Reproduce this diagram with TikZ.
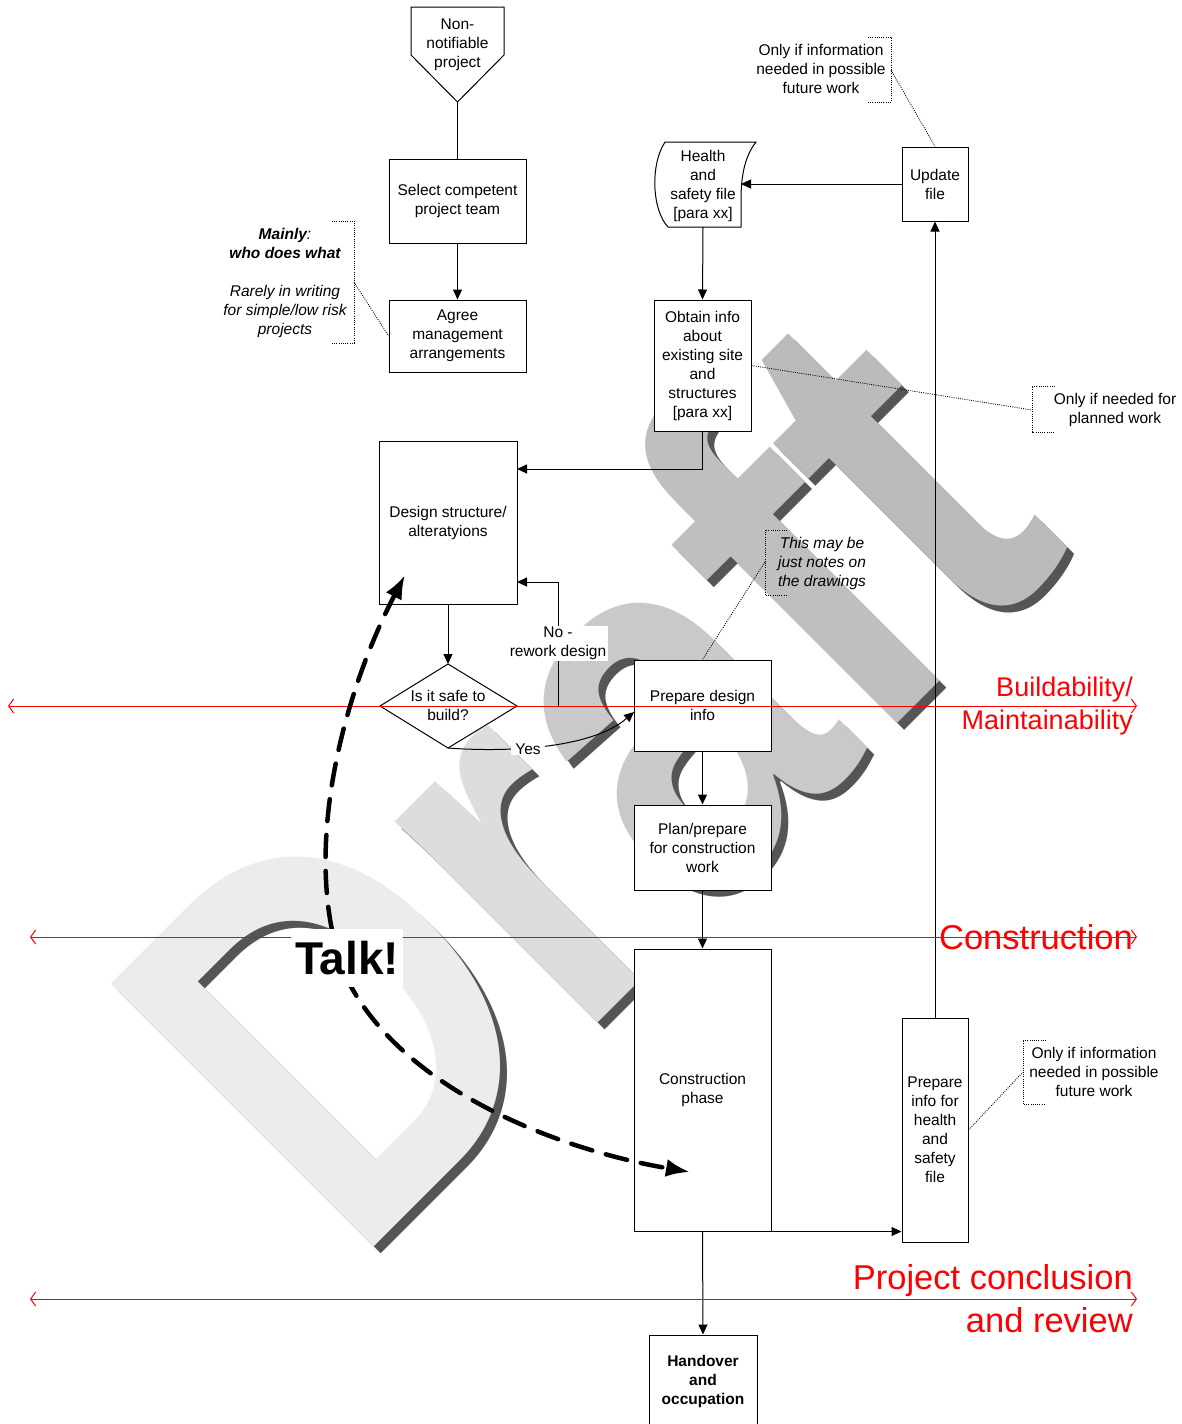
\documentclass[tikz,border=0pt]{standalone}
\usepackage{fontspec}
\setmainfont{Liberation Sans}
\usetikzlibrary{arrows.meta}
\definecolor{wmD}{HTML}{ECECEC}
\definecolor{wmR}{HTML}{DDDDDD}
\definecolor{wmA}{HTML}{C9C9C9}
\definecolor{wmF}{HTML}{BFBFBF}
\definecolor{wmT}{HTML}{BBBBBB}
\definecolor{wmShadow}{HTML}{555555}
\newcommand\bodyfont{\fontsize{15.5}{19}\selectfont}
\newcommand\wmfont{\fontsize{470}{470}\selectfont\bfseries}
\begin{document}
\begin{tikzpicture}[x=1pt,y=-1pt,
  box/.style={draw, fill=white, line width=1pt, align=center, inner sep=0pt, font=\bodyfont},
  txt/.style={align=center, inner sep=0pt, font=\bodyfont},
  arr/.style={line width=1pt, -{Triangle[length=10pt,width=9pt]}},
  conn/.style={line width=1pt},
  note/.style={line width=0.8pt, dash pattern=on 1pt off 1.2pt},
  phase/.style={red, line width=1pt, {Straight Barb[length=5pt,width=14pt]}-{Straight Barb[length=5pt,width=14pt]}},
  phasetxt/.style={red, anchor=east, align=right, inner sep=0pt},
  talkarrow/.style={line width=4.5pt, line cap=round, dash pattern=on 22pt off 14pt,
    {Latex[length=24pt,width=18pt]}-{Latex[length=24pt,width=18pt]}}
]
\useasboundingbox (0,0) rectangle (1182,1424);

% watermark
\node[rotate=45, anchor=base west, inner sep=0pt, font=\wmfont, text=wmShadow] (wmshadow) at (360,1275)
  {\scalebox{0.93}[1.15]{Draft}};
\node[rotate=45, anchor=base west, inner sep=0pt, font=\wmfont] (wm) at (353,1268)
  {\scalebox{0.93}[1.15]{{\color{wmD}D}{\color{wmR}r}{\color{wmA}a}{\color{wmF}f}{\color{wmT}t}}};

% start of the flow
\draw[conn, fill=white] (411,7) -- (504,7) -- (504,55) -- (457.5,102) -- (411,55) -- cycle;
\node[txt] (nn) at (457.5,45) {Non-\\notifiable\\project};
\coordinate (nnTip) at (457.5,102);

\node[box, minimum width=137, minimum height=84] (sel) at (457.5,201) {Select competent\\project team};
\node[box, minimum width=137, minimum height=72] (agr) at (457.5,336) {Agree\\management\\arrangements};
\draw[conn] (nnTip) -- (sel.north);
\draw[arr] (sel.south) -- (agr.north);

% note on management arrangements
\node[txt, font=\bodyfont\itshape] (who) at (285,243.5) {\textbf{Mainly}:\\\textbf{who does what}};
\node[txt, font=\bodyfont\itshape] (rare) at (285,311) {Rarely in writing\\for simple/low risk\\projects};
\draw[note] (332,221) -- (354,221) -- (354,343) -- (332,343);
\coordinate (whoBr) at (354,282);
\draw[note] (whoBr) -- (agr.west);

% health and safety file
\draw[conn, fill=white] (665,142) -- (756,142) .. controls (745,156) and (741,175) .. (741,200) -- (741,227)
  -- (668,227) .. controls (652,210) and (650,165) .. (665,142) -- cycle;
\node[txt] (hs) at (703,185.5) {Health\\and\\safety file\\{[para xx]}};
\coordinate (hsR) at (741,184);
\coordinate (hsB) at (703,227);

\node[box, minimum width=66, minimum height=74] (upd) at (935,184) {Update\\file};
\draw[arr] (upd.west) -- (hsR);

\node[txt] (topnote) at (821,69) {Only if information\\needed in possible\\future work};
\draw[note] (868,37) -- (891,37) -- (891,102) -- (868,102);
\coordinate (topBr) at (891,70);
\draw[note] (topBr) -- (upd.north);

% existing site information
\node[box, minimum width=97, minimum height=131] (obt) at (702.5,365.5)
  {Obtain info\\about\\existing site\\and\\structures\\{[para xx]}};
\draw[arr] (hsB) -- (obt.north);

\node[txt] (plannote) at (1115,409.5) {Only if needed for\\planned work};
\draw[note] (1055,386) -- (1032,386) -- (1032,432) -- (1055,432);
\coordinate (planBr) at (1032,410);
\draw[note] (obt.east) -- (planBr);

% design loop
\node[box, minimum width=138, minimum height=163] (des) at (448,522.5) {Design structure/\\alteratyions};
\coordinate (desIn) at (517,469);
\draw[arr] (obt.south) |- (desIn);

\draw[conn, fill=white] (380,706) -- (448,664) -- (517,706) -- (448,748) -- cycle;
\node[txt] (safe) at (448,705.5) {Is it safe to\\build?};
\coordinate (diaN) at (448,664);
\coordinate (diaE) at (517,706);
\coordinate (diaS) at (448,748);
\draw[arr] (des.south) -- (diaN);

\coordinate (noBend) at (558,582);
\coordinate (desNo) at (517,582);
\draw[arr] (diaE) -| (noBend) -- (desNo);
\node[txt, fill=white, inner sep=1.5pt] (nolab) at (558,643.5) {No -\\rework design};

\node[box, minimum width=137, minimum height=91] (pdi) at (702.5,705.5) {Prepare design\\info};
\coordinate (pdiIn) at (634,712);
\draw[arr] (diaS) .. controls (500,752) and (590,750) .. (pdiIn);
\node[txt, fill=white, inner xsep=4pt, inner ysep=1pt] (yes) at (528,749) {Yes};

\node[txt, font=\bodyfont\itshape] (drnote) at (822,563) {This may be\\just notes on\\the drawings};
\draw[note] (787,530) -- (765,530) -- (765,595) -- (787,595);
\coordinate (drBr) at (765,562);
\draw[note] (drBr) -- (pdi.north);

% construction
\node[box, minimum width=137, minimum height=85] (plan) at (702.5,847.5) {Plan/prepare\\for construction\\work};
\draw[arr] (pdi.south) -- (plan.north);
\node[box, minimum width=137, minimum height=282] (con) at (702.5,1090) {Construction\\phase};
\draw[arr] (plan.south) -- (con.north);
\node[box, minimum width=108, minimum height=92, font=\bodyfont\bfseries] (hand) at (703,1381) {Handover\\and\\occupation};
\draw[arr] (con.south) -- (hand.north);

\node[box, minimum width=66, minimum height=224] (pif) at (935,1130) {Prepare\\info for\\health\\and\\safety\\file};
\draw[arr] (con.south east) -- (con.south east -| pif.west);
\draw[arr] (pif.north) -- (upd.south);

\node[txt] (futnote) at (1094,1072) {Only if information\\needed in possible\\future work};
\draw[note] (1046,1040) -- (1023,1040) -- (1023,1104) -- (1046,1104);
\coordinate (futBr) at (1023,1072);
\draw[note] (pif.east) -- (futBr);

% project phases
\coordinate (bL) at (8,706);   \coordinate (bR) at (1137,706);
\coordinate (cL) at (30,937);  \coordinate (cR) at (1137,937);
\coordinate (pL) at (30,1299); \coordinate (pR) at (1137,1299);
\draw[phase] (bL) -- (bR);
\draw[phase] (cL) -- (cR);
\draw[phase] (pL) -- (pR);
\node[phasetxt, font=\fontsize{27}{33}\selectfont] (build) at (1133,706) {Buildability/\\Maintainability};
\node[phasetxt, font=\fontsize{34.5}{40}\selectfont] (constr) at (1133,937) {Construction};
\node[phasetxt, font=\fontsize{34.5}{43}\selectfont] (concl) at (1133,1299) {Project conclusion\\and review};

% talk
\coordinate (desTalk) at (405,575);
\coordinate (conTalk) at (690,1172);
\draw[talkarrow] (desTalk) .. controls (340,700) and (300,860) .. (345,975)
  .. controls (400,1090) and (560,1150) .. (conTalk);
\node[fill=white, inner xsep=4pt, inner ysep=12pt, font=\fontsize{46}{46}\selectfont\bfseries] (talk) at (347,958) {Talk!};
\end{tikzpicture}
\end{document}
